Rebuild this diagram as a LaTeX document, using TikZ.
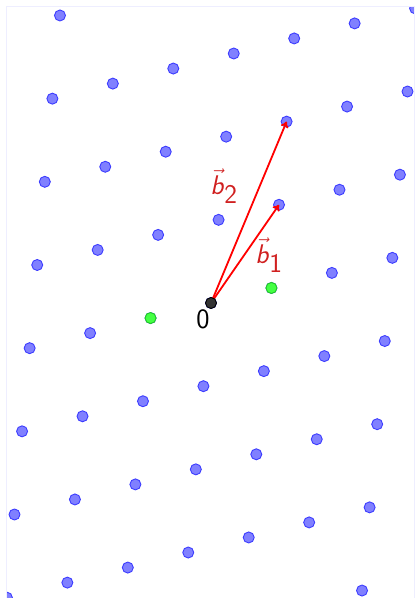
\documentclass[tikz,border=0pt]{standalone}
\usetikzlibrary{arrows.meta,calc}
\definecolor{ptblue}{HTML}{8080FF}
\definecolor{ptblueline}{HTML}{3C3CFF}
\definecolor{ptgreen}{HTML}{44FF44}
\definecolor{ptgreenline}{HTML}{22CC22}
\definecolor{lblred}{HTML}{D02020}
\definecolor{frame}{HTML}{EEEEFF}
\begin{document}
\begin{tikzpicture}[x=1pt,y=-1pt,
  bluept/.style={fill=ptblue,draw=ptblueline,line width=0.9pt},
  greenpt/.style={fill=ptgreen,draw=ptgreenline,line width=0.9pt},
  originpt/.style={fill=black!80,draw=black,line width=0.9pt},
  vecarrow/.style={draw=red,line width=1.8pt,-{To[length=6pt,width=8pt]}},
  lbl/.style={text=lblred,font=\fontsize{27}{31}\selectfont\sffamily,inner sep=0pt},
  olbl/.style={text=black,font=\fontsize{28}{32}\selectfont\sffamily,inner sep=0pt}]
\useasboundingbox (0,0) rectangle (415,598);
\coordinate (O) at (211,303);
\coordinate (A) at (60.45,-15.05);
\coordinate (C) at (7.58,-83.17);
\begin{scope}
\clip (6,6) rectangle (414,604);
\foreach \m in {-8,...,8}{
  \foreach \n in {-8,...,8}{
    \filldraw[bluept] ($(O)+\m*(A)+\n*(C)$) circle (5.5);
  }
}
\end{scope}
\draw[frame,line width=0.8pt] (6,598) -- (6,6) -- (414,6) -- (414,598);
\coordinate (G1) at ($(O)+(A)$);
\coordinate (G2) at ($(O)-(A)$);
\coordinate (B1) at ($(O)+(A)+(C)$);
\coordinate (B2) at ($(O)+(A)+2*(C)$);
\filldraw[greenpt] (G1) circle (5.5);
\filldraw[greenpt] (G2) circle (5.5);
\draw[vecarrow] (O) -- (B1);
\draw[vecarrow] (O) -- (B2);
\filldraw[originpt] (O) circle (5.5);
\node[lbl] (l2) at (224,186) {$\vec{\textsf{\textit{b}}}_{\textsf{2}}$};
\node[lbl] (l1) at (269,255) {$\vec{\textsf{\textit{b}}}_{\textsf{1}}$};
\node[olbl] (l0) at (203,319) {0};
\end{tikzpicture}
\end{document}
